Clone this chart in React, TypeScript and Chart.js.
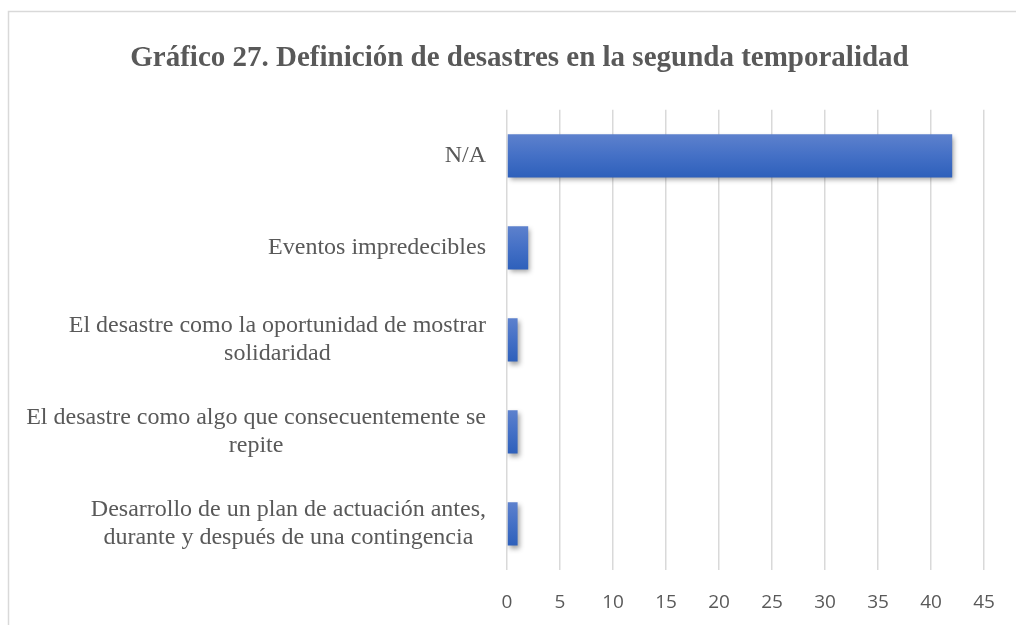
import React, { useEffect, useRef } from "react";
import { Chart, registerables } from "chart.js";

Chart.register(...registerables);

const titleText = "Gráfico 27. Definición de desastres en la segunda temporalidad";
const categories: string[][] = [
  ["N/A"],
  ["Eventos impredecibles"],
  ["El desastre como la oportunidad de mostrar", "solidaridad"],
  ["El desastre como algo que consecuentemente se", "repite"],
  ["Desarrollo de un plan de actuación antes,", "durante y después de una contingencia"],
];
const values: number[] = [42, 2, 1, 1, 1];
const xMin = 0;
const xMax = 45;
const xStep = 5;

const BAR_FRACTION = 0.47;
const TEXT_COLOR = "#595959";
const GRID_COLOR = "#d9d9d9";

export default function App() {
  const canvasRef = useRef<HTMLCanvasElement | null>(null);

  useEffect(() => {
    const canvas = canvasRef.current;
    if (!canvas) return;

    const frame = {
      id: "frame",
      beforeDraw(chart: any) {
        const ctx = chart.ctx;
        ctx.save();
        ctx.fillStyle = "#ffffff";
        ctx.fillRect(0, 0, chart.width, chart.height);
        ctx.strokeStyle = GRID_COLOR;
        ctx.lineWidth = 1.5;
        ctx.beginPath();
        ctx.moveTo(8.5, chart.height);
        ctx.lineTo(8.5, 11.5);
        ctx.lineTo(chart.width, 11.5);
        ctx.stroke();
        ctx.restore();
      },
    };

    const shadow = {
      id: "barShadow",
      beforeDatasetsDraw(chart: any) {
        const ctx = chart.ctx;
        ctx.save();
        ctx.shadowColor = "rgba(0,0,0,0.38)";
        ctx.shadowBlur = 5;
        ctx.shadowOffsetX = 2;
        ctx.shadowOffsetY = 3;
      },
      afterDatasetsDraw(chart: any) {
        chart.ctx.restore();
      },
    };

    const yLabels = {
      id: "yLabels",
      afterDraw(chart: any) {
        const ctx = chart.ctx;
        const y = chart.scales.y;
        const right = chart.chartArea.left - 21;
        const lh = 28;
        ctx.save();
        ctx.font = '24px "Liberation Serif", "Times New Roman", serif';
        ctx.fillStyle = TEXT_COLOR;
        ctx.textAlign = "center";
        ctx.textBaseline = "middle";
        categories.forEach((lines, i) => {
          const widths = lines.map((l) => ctx.measureText(l).width);
          const bw = Math.max(...widths);
          const cx = right - bw / 2;
          const cy = y.getPixelForValue(i);
          const y0 = cy - ((lines.length - 1) * lh) / 2;
          lines.forEach((l, k) => ctx.fillText(l, cx, y0 + k * lh));
        });
        ctx.restore();
      },
    };

    const chart = new Chart(canvas, {
      type: "bar",
      data: {
        labels: categories,
        datasets: [
          {
            data: values,
            categoryPercentage: 1,
            barPercentage: BAR_FRACTION,
            borderWidth: 0,
            backgroundColor: (c: any) => {
              const ch = c.chart;
              const area = ch.chartArea;
              if (!area || c.dataIndex == null || !ch.scales.y) return "#4472c4";
              const cy = ch.scales.y.getPixelForValue(c.dataIndex);
              const half = ((area.bottom - area.top) / categories.length) * BAR_FRACTION / 2;
              const g = ch.ctx.createLinearGradient(0, cy - half, 0, cy + half);
              g.addColorStop(0, "#5d81cd");
              g.addColorStop(0.5, "#4470c6");
              g.addColorStop(1, "#2e60bb");
              return g;
            },
          },
        ],
      },
      options: {
        indexAxis: "y",
        animation: false,
        responsive: false,
        layout: { padding: { left: 55, right: 32, top: 0, bottom: 0 } },
        plugins: {
          legend: { display: false },
          tooltip: { enabled: false },
          title: {
            display: true,
            text: titleText,
            color: TEXT_COLOR,
            font: { family: '"Liberation Serif", "Times New Roman", serif', size: 29, weight: "bold" },
            padding: { top: 41, bottom: 34 },
          },
        },
        scales: {
          x: {
            min: xMin,
            max: xMax,
            border: { display: false },
            grid: { color: GRID_COLOR, lineWidth: 1.5, drawTicks: false },
            ticks: {
              stepSize: xStep,
              color: TEXT_COLOR,
              padding: 21,
              font: { family: '"Open Sans", sans-serif', size: 19 },
            },
            afterFit(scale: any) {
              scale.height = 55;
            },
          },
          y: {
            border: { display: false },
            grid: { display: false },
            ticks: { display: false },
            afterFit(scale: any) {
              scale.width = 452;
            },
          },
        },
      },
      plugins: [frame, shadow, yLabels],
    } as any);

    return () => chart.destroy();
  }, []);

  return (
    <div style={{ position: "absolute", left: 0, top: 0, width: 1016, height: 625, overflow: "hidden" }}>
      <canvas ref={canvasRef} width={1016} height={625} style={{ display: "block" }} />
    </div>
  );
}
